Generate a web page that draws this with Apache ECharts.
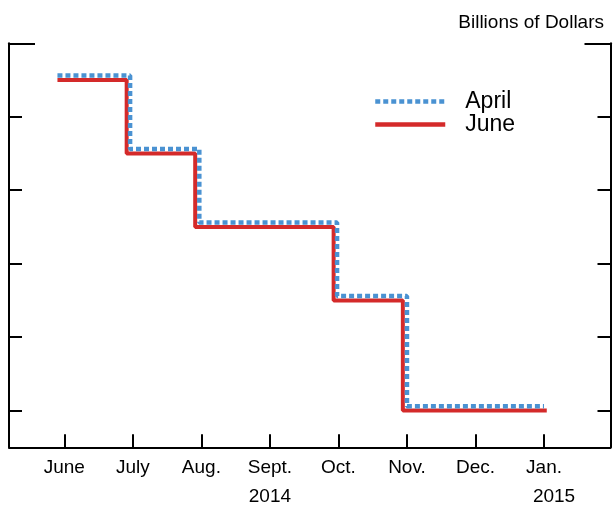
<!DOCTYPE html>
<html>
<head>
<meta charset="utf-8">
<script src="https://cdn.jsdelivr.net/npm/echarts@6/dist/echarts.min.js"></script>
<style>
  html, body { margin: 0; padding: 0; background: #fff; }
  #main { width: 613px; height: 508px; }
</style>
</head>
<body>
<div id="main"></div>
<script>
// month ticks on x axis (0 = June 2014)
const months = ['June', 'July', 'Aug.', 'Sept.', 'Oct.', 'Nov.', 'Dec.', 'Jan.'];
const years = ['', '', '', '2014', '', '', '', '2015'];
const monthTicks = [0, 1, 2, 3, 4, 5, 6, 7];
const yTicks = [0, 10, 20, 30, 40];
const yTopTick = [50];

// step points (x in months from June, y in billions)
const aprilX = [-0.1, 0.96, 1.97, 3.98, 5.0, 7.0];
const aprilY = [45.6, 35.6, 25.6, 15.6, 0.6, 0.6];
const juneX = [-0.1, 0.91, 1.91, 3.93, 4.94, 7.04];
const juneY = [45, 35, 25, 15, 0, 0];

const font = 'Liberation Sans, Arial, sans-serif';
const pairs = (xs, ys) => xs.map((x, i) => [x, ys[i]]);

let mychart = echarts.init(document.getElementById('main'));

const yBase = {
  type: 'value',
  min: -5,
  max: 50,
  splitLine: { show: false },
  axisLabel: { show: false }
};
const blackLine = { onZero: false, lineStyle: { color: '#000', width: 2 } };

var option = {
  animation: false,
  title: {
    text: 'Billions of Dollars',
    right: 4,
    top: 8,
    textStyle: { fontFamily: font, fontSize: 19, fontWeight: 'normal', color: '#000' }
  },
  legend: {
    orient: 'vertical',
    left: 368,
    top: 85,
    itemWidth: 70,
    itemHeight: 14,
    itemGap: 0,
    itemStyle: { opacity: 0 },
    lineStyle: { width: 4.5 },
    textStyle: { fontFamily: font, fontSize: 23, lineHeight: 22, color: '#000', padding: [0, 0, 0, 15] },
    data: ['April', 'June']
  },
  grid: {
    left: 9, right: 2.5, top: 43.3, bottom: 60.7,
    containLabel: false,
    outerBoundsMode: 'none'
  },
  xAxis: {
    type: 'value',
    min: -0.807,
    max: 7.97,
    splitLine: { show: false },
    axisLine: Object.assign({ show: true }, blackLine),
    axisTick: {
      show: true, inside: true, length: 13, customValues: monthTicks,
      lineStyle: { color: '#000', width: 2 }
    },
    axisLabel: {
      customValues: monthTicks,
      margin: 6,
      formatter: function (v) {
        const i = Math.round(v);
        if (years[i] === '2015') return '{m|' + months[i] + '}\n{y2|' + years[i] + '}';
        if (years[i]) return '{m|' + months[i] + '}\n{y|' + years[i] + '}';
        return '{m|' + months[i] + '}';
      },
      rich: {
        m: { fontFamily: font, fontSize: 19, lineHeight: 29, color: '#000' },
        y: { fontFamily: font, fontSize: 19, lineHeight: 29, color: '#000' },
        y2: { fontFamily: font, fontSize: 19, lineHeight: 29, color: '#000', padding: [0, 0, 0, 20] }
      }
    }
  },
  yAxis: [
    Object.assign({}, yBase, {
      position: 'left',
      axisLine: Object.assign({ show: true }, blackLine),
      axisTick: { show: true, inside: true, length: 13, customValues: yTicks, lineStyle: { color: '#000', width: 2 } }
    }),
    Object.assign({}, yBase, {
      position: 'right',
      axisLine: Object.assign({ show: true }, blackLine),
      axisTick: { show: true, inside: true, length: 13, customValues: yTicks, lineStyle: { color: '#000', width: 2 } }
    }),
    Object.assign({}, yBase, {
      position: 'left',
      axisLine: { show: false, onZero: false },
      axisTick: { show: true, inside: true, length: 26, customValues: yTopTick, lineStyle: { color: '#000', width: 2 } }
    }),
    Object.assign({}, yBase, {
      position: 'right',
      axisLine: { show: false, onZero: false },
      axisTick: { show: true, inside: true, length: 26, customValues: yTopTick, lineStyle: { color: '#000', width: 2 } }
    })
  ],
  series: [
    {
      name: 'April',
      type: 'line',
      step: 'end',
      symbol: 'none',
      color: '#4a92d2',
      lineStyle: { color: '#4a92d2', width: 4.5, type: [5, 3] },
      data: pairs(aprilX, aprilY),
      z: 3
    },
    {
      name: 'June',
      type: 'line',
      step: 'end',
      symbol: 'none',
      color: '#d42a2a',
      lineStyle: { color: '#d42a2a', width: 4 },
      data: pairs(juneX, juneY),
      z: 2
    }
  ]
};

mychart.setOption(option);
</script>
</body>
</html>
